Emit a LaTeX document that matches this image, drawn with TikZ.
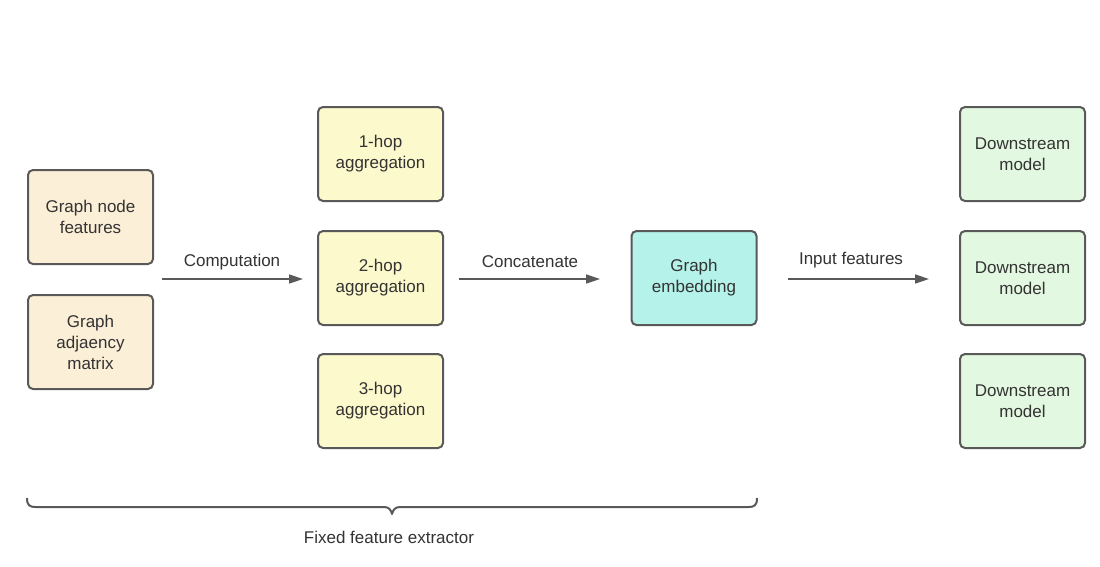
\documentclass[tikz,border=0pt]{standalone}
\usepackage{fontspec}
\setmainfont{Liberation Sans}
\usetikzlibrary{arrows.meta}
\definecolor{bord}{HTML}{595959}
\definecolor{txt}{HTML}{333333}
\definecolor{fbeige}{HTML}{FCEFD7}
\definecolor{fyellow}{HTML}{FCF9CC}
\definecolor{fcyan}{HTML}{B4F2EA}
\definecolor{fgreen}{HTML}{E3F8E0}
\tikzset{
  boxbase/.style={draw=bord, line width=2pt, rounded corners=5pt,
    minimum width=125pt, minimum height=94pt, inner sep=0pt,
    align=center, text=txt, font=\fontsize{17}{21}\selectfont},
  beigebox/.style={boxbase, fill=fbeige},
  yellowbox/.style={boxbase, fill=fyellow},
  cyanbox/.style={boxbase, fill=fcyan},
  greenbox/.style={boxbase, fill=fgreen},
  conn/.style={draw=bord, line width=1.6pt, -{Triangle[length=14pt,width=9pt]}},
  lbl/.style={text=txt, font=\fontsize{17}{21}\selectfont, inner sep=0pt}
}
\begin{document}
\begin{tikzpicture}[x=1pt,y=-1pt]
\useasboundingbox (0,0) rectangle (1100,566);
\fill[white] (0,0) rectangle (1100,566);
\node[beigebox] (gnf) at (90.5,217) {Graph node\\features};
\node[beigebox] (gam) at (90.5,342) {Graph\\adjaency\\matrix};
\node[yellowbox] (h1) at (380.5,154) {1-hop\\aggregation};
\node[yellowbox] (h2) at (380.5,278) {2-hop\\aggregation};
\node[yellowbox] (h3) at (380.5,401) {3-hop\\aggregation};
\node[cyanbox] (ge) at (694,278) {Graph\\embedding};
\node[greenbox] (d1) at (1022.5,154) {Downstream\\model};
\node[greenbox] (d2) at (1022.5,278) {Downstream\\model};
\node[greenbox] (d3) at (1022.5,401) {Downstream\\model};
\coordinate (a1s) at (162,279);
\coordinate (a1e) at (303,279);
\coordinate (a2s) at (459,279);
\coordinate (a2e) at (600,279);
\coordinate (a3s) at (788,279);
\coordinate (a3e) at (929,279);
\draw[conn] (a1s) -- (a1e);
\draw[conn] (a2s) -- (a2e);
\draw[conn] (a3s) -- (a3e);
\node[lbl] (l1) at (232,262) {Computation};
\node[lbl] (l2) at (530,262) {Concatenate};
\node[lbl] (l3) at (851,260) {Input features};
\draw[draw=bord, line width=2pt, line join=round]
  (27,498) .. controls (27,505) and (29,507) .. (36,507)
  -- (384,507) .. controls (389,507) and (391,510) .. (392,514)
  .. controls (393,510) and (395,507) .. (400,507)
  -- (748,507) .. controls (755,507) and (757,505) .. (757,498);
\node[lbl] (fx) at (389,537) {Fixed feature extractor};
\end{tikzpicture}
\end{document}
